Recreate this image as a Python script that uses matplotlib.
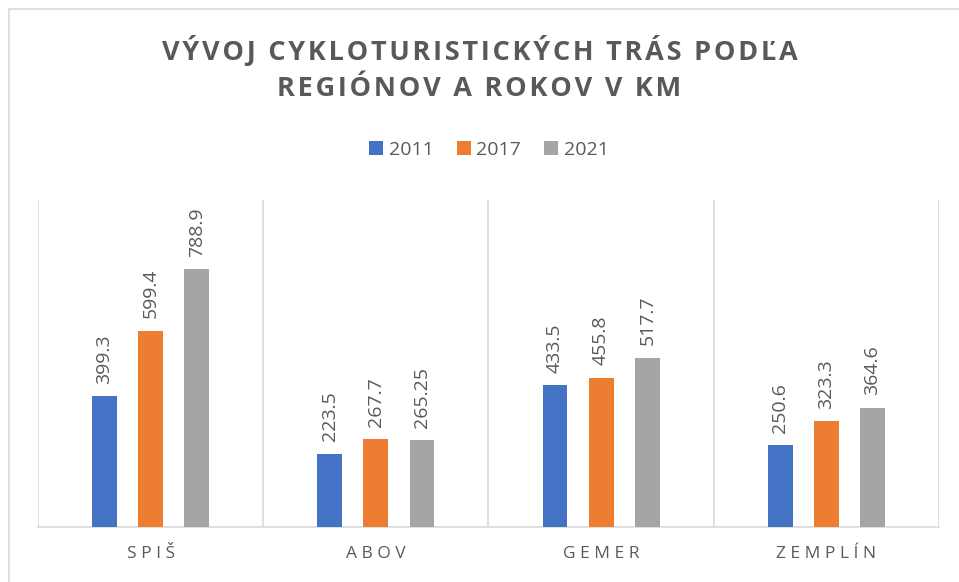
import matplotlib.pyplot as plt
import numpy as np
from matplotlib.patches import Rectangle

# datos del gráfico
regions = ["SPIŠ", "ABOV", "GEMER", "ZEMPLÍN"]
years = ["2011", "2017", "2021"]
km_2011 = [399.3, 223.5, 433.5, 250.6]
km_2017 = [599.4, 267.7, 455.8, 323.3]
km_2021 = [788.9, 265.25, 517.7, 364.6]
labels_2011 = ["399.3", "223.5", "433.5", "250.6"]
labels_2017 = ["599.4", "267.7", "455.8", "323.3"]
labels_2021 = ["788.9", "265.25", "517.7", "364.6"]

colors = ["#4472C4", "#ED7D31", "#A5A5A5"]
text_gray = "#595959"
grid_gray = "#D9D9D9"

plt.rcParams["font.family"] = ["Open Sans", "DejaVu Sans"]

fig = plt.figure(figsize=(9.59, 5.82), dpi=100)
fig.patches.append(Rectangle((9 / 959, -0.1), 1.2, 1 - 9 / 582 + 0.1,
                             transform=fig.transFigure, fill=False,
                             edgecolor=grid_gray, linewidth=1.2))

ax = fig.add_axes([38 / 959, 1 - 527 / 582, (939 - 38) / 959, (527 - 200) / 582])

x = np.arange(len(regions))
width = 0.11
step = 0.205

series = [(km_2011, labels_2011), (km_2017, labels_2017), (km_2021, labels_2021)]
for i, (vals, labs) in enumerate(series):
    pos = x + (i - 1) * step
    ax.bar(pos, vals, width, color=colors[i], label=years[i], zorder=3)
    for px, v, t in zip(pos, vals, labs):
        ax.annotate(t, (px, v), xytext=(0, 9), textcoords="offset points",
                    rotation=90, ha="center", va="bottom",
                    fontsize=14, color=text_gray)

ax.set_xlim(-0.5, 3.5)
ax.set_ylim(0, 1000)
ax.set_yticks([])
ax.set_xticks(x)
ax.set_xticklabels([" ".join(r) for r in regions], fontsize=12.5, color=text_gray)
ax.tick_params(axis="x", length=0, pad=14)

for b in np.arange(-0.5, 3.6, 1.0):
    ax.axvline(b, color=grid_gray, linewidth=1.2, zorder=1)
for s in ["top", "left", "right"]:
    ax.spines[s].set_visible(False)
ax.spines["bottom"].set_color(grid_gray)
ax.spines["bottom"].set_linewidth(1.2)

# título con espaciado entre letras (hair space)
title = "VÝVOJ CYKLOTURISTICKÝCH TRÁS PODĽA\nREGIÓNOV A ROKOV V KM"
sp = "\u200a"
title_spaced = "\n".join(sp.join(line) for line in title.split("\n"))
fig.text(0.5, 1 - 69 / 582, title_spaced,
         ha="center", va="center", fontsize=19.5, fontweight="bold",
         color=text_gray, linespacing=1.5)

fig.legend(loc="center", bbox_to_anchor=(0.51, 1 - 150 / 582), ncol=3,
           frameon=False, fontsize=14, handlelength=0.7, handleheight=0.7,
           handletextpad=0.3, columnspacing=1.2, labelcolor=text_gray)

plt.savefig("out.png", dpi=100)
plt.close()
